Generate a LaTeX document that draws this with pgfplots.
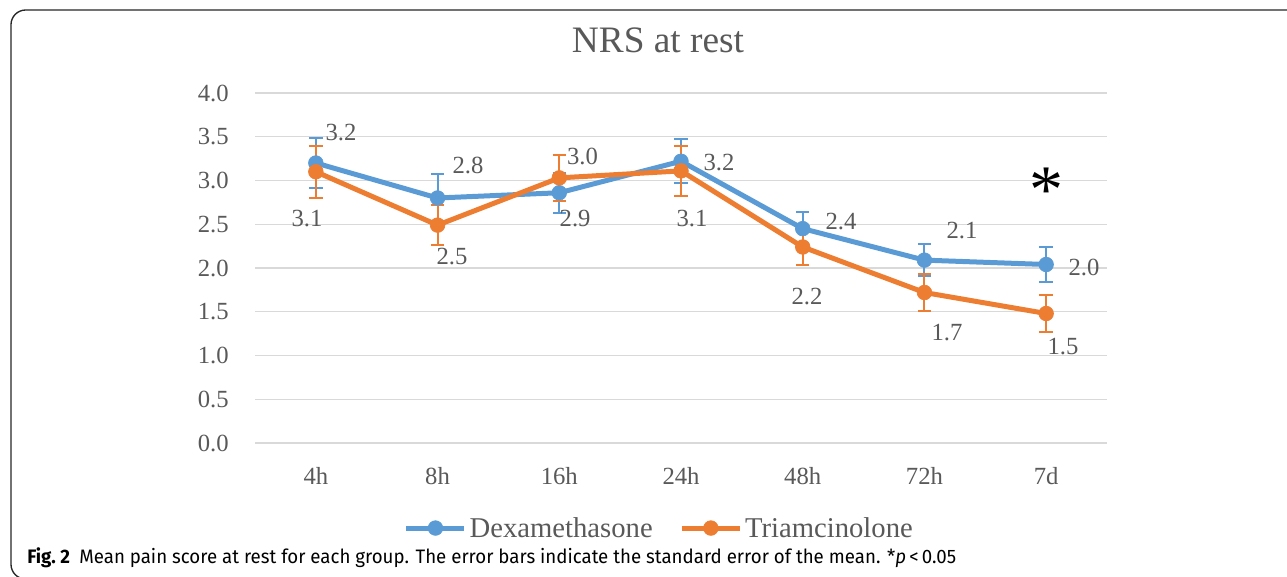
\documentclass[border=0pt]{standalone}
\usepackage{fontspec}
\setmainfont{Liberation Serif}
\newfontfamily\capfont{Fira Sans}[FakeStretch=0.96]
\usepackage{pgfplots}
\usepackage{pgfplotstable}
\pgfplotsset{compat=1.18}
\definecolor{dexblue}{RGB}{91,155,213}
\definecolor{triorange}{RGB}{237,125,49}
\definecolor{gridgray}{RGB}{217,217,217}
\definecolor{txtgray}{RGB}{89,89,89}

\pgfplotstableread{
x y e
0 3.20 0.29
1 2.80 0.27
2 2.86 0.23
3 3.22 0.25
4 2.45 0.19
5 2.09 0.18
6 2.04 0.20
}\dex
\pgfplotstableread{
x y e
0 3.10 0.30
1 2.49 0.23
2 3.03 0.26
3 3.11 0.29
4 2.24 0.21
5 1.72 0.21
6 1.48 0.21
}\tri

\begin{document}
\begin{tikzpicture}[x=0.75pt,y=0.75pt]
\draw[line width=1pt, black!85, rounded corners=11pt] (11,566) rectangle (1400,-3);
\node[txtgray, font=\fontsize{28}{32}\selectfont] at (658,536) {NRS at rest};
\begin{axis}[
  at={(191.25pt,99.75pt)}, anchor=south west,
  width=639pt, height=262.5pt, scale only axis,
  xmin=-0.5, xmax=6.5, ymin=0, ymax=4,
  axis line style={draw=none},
  major tick length=0pt, tick style={draw=none},
  ymajorgrids, grid style={gridgray, line width=1pt},
  ytick={0,0.5,1,1.5,2,2.5,3,3.5,4},
  yticklabels={0.0,0.5,1.0,1.5,2.0,2.5,3.0,3.5,4.0},
  xtick={0,1,2,3,4,5,6},
  xticklabels={4h,8h,16h,24h,48h,72h,7d},
  ticklabel style={txtgray, font=\fontsize{18.5}{20}\selectfont, inner sep=0pt},
  yticklabel style={anchor=east, xshift=-19.5pt},
  xticklabel style={anchor=north, yshift=-18pt},
  legend style={at={(0.475,-0.243)}, anchor=center, draw=none, fill=none,
    legend columns=2, font=\fontsize{21.5}{24}\selectfont, text=txtgray,
    /tikz/every even column/.append style={column sep=18pt}},
  legend image code/.code={\draw[mark repeat=2,mark phase=2] plot coordinates {(0pt,0pt) (21.75pt,0pt) (43.5pt,0pt)};},
  clip=false,
]
\addplot[dexblue, line width=3.75pt, mark=*, mark size=5.5pt, mark options={line width=0.5pt, solid},
  error bars/.cd, y dir=both, y explicit,
  error bar style={line width=1.5pt, dexblue},
  error mark options={rotate=90, mark size=5pt, line width=1.5pt, dexblue}]
  table[x=x, y=y, y error=e] {\dex};
\addlegendentry{Dexamethasone}
\addplot[triorange, line width=3.75pt, mark=*, mark size=5.5pt, mark options={line width=0.5pt, solid},
  error bars/.cd, y dir=both, y explicit,
  error bar style={line width=1.5pt, triorange},
  error mark options={rotate=90, mark size=5pt, line width=1.5pt, triorange}]
  table[x=x, y=y, y error=e] {\tri};
\addlegendentry{Triamcinolone}

\begin{scope}[every node/.style={txtgray, font=\fontsize{18.5}{20}\selectfont}]
\node at (axis cs:0.207,3.543) {3.2};
\node at (axis cs:1.250,3.177) {2.8};
\node at (axis cs:2.130,2.560) {2.9};
\node at (axis cs:3.312,3.200) {3.2};
\node at (axis cs:4.315,2.537) {2.4};
\node at (axis cs:5.309,2.423) {2.1};
\node at (axis cs:6.311,2.011) {2.0};
\node at (axis cs:-0.073,2.560) {3.1};
\node at (axis cs:1.119,2.126) {2.5};
\node at (axis cs:2.190,3.270) {3.0};
\node at (axis cs:3.090,2.560) {3.1};
\node at (axis cs:4.035,1.669) {2.2};
\node at (axis cs:5.186,1.257) {1.7};
\node at (axis cs:6.139,1.097) {1.5};
\end{scope}
\node[anchor=base, black, font=\fontsize{51}{53}\selectfont] at (axis cs:6,2.64) {*};
\end{axis}
\node[anchor=base west, inner sep=0pt, black] at (27,13) {\capfont\fontsize{14.6}{17}\selectfont\textbf{Fig.~2}\hspace{7pt}Mean pain score at rest for each group. The error bars indicate the standard error of the mean. *\textit{p}\,<\,0.05};
\pgfresetboundingbox
\path[use as bounding box] (0,0) rectangle (1287,576);
\end{tikzpicture}
\end{document}
